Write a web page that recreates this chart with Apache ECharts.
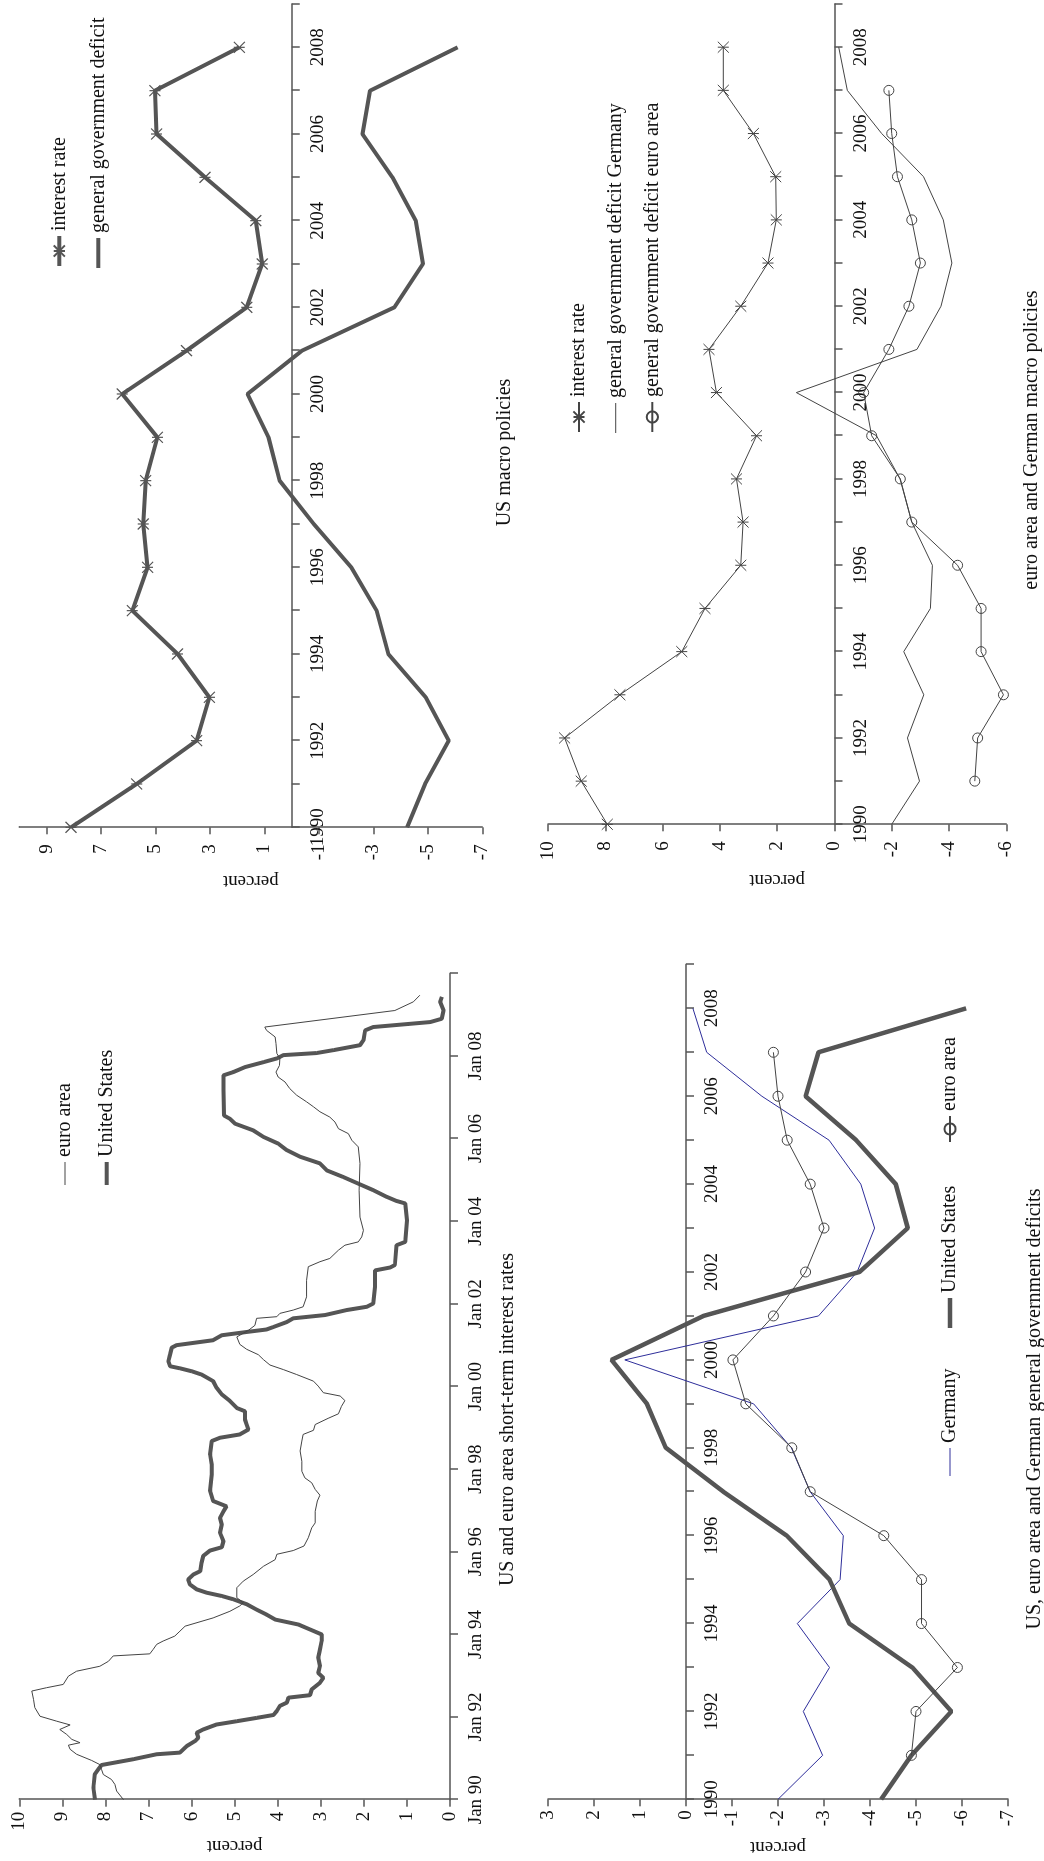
<!DOCTYPE html>
<html><head><meta charset="utf-8">
<script src="https://cdn.jsdelivr.net/npm/echarts@6/dist/echarts.min.js"></script>
<style>
html,body{margin:0;padding:0;background:#fff;width:1044px;height:1861px;overflow:hidden;}
#chart{position:absolute;left:0;top:0;width:1861px;height:1044px;transform-origin:0 0;transform:translate(0,1861px) rotate(-90deg);background:#fff;}
</style></head><body><div id="chart"></div>
<script>
// ---------- DATA ----------
const years = [1990,1991,1992,1993,1994,1995,1996,1997,1998,1999,2000,2001,2002,2003,2004,2005,2006,2007,2008];
const usInterestRate = [8.10,5.69,3.49,3.02,4.19,5.85,5.29,5.45,5.36,4.93,6.22,3.86,1.65,1.08,1.32,3.18,4.96,5.02,1.92];
const usDeficit = [-4.24,-4.90,-5.77,-4.92,-3.55,-3.12,-2.19,-0.81,0.44,0.85,1.62,-0.38,-3.77,-4.82,-4.56,-3.70,-2.60,-2.88,-6.09];
const euroInterestRate = [7.93,8.84,9.42,7.49,5.33,4.52,3.27,3.19,3.42,2.72,4.12,4.38,3.27,2.32,2.03,2.05,2.83,3.88,3.88];
const germanyDeficit = [-2.00,-2.97,-2.55,-3.12,-2.42,-3.35,-3.42,-2.70,-2.29,-1.47,1.33,-2.88,-3.72,-4.10,-3.80,-3.11,-1.65,-0.45,-0.15];
const euroDeficit = [null,-4.90,-5.00,-5.90,-5.12,-5.12,-4.30,-2.70,-2.30,-1.30,-1.02,-1.90,-2.60,-3.00,-2.70,-2.20,-2.00,-1.90,null];

// short-term interest rates (time in decimal years)
const usRateTime = [1990.00,1990.29,1990.61,1990.73,1990.84,1990.98,1991.10,1991.14,1991.30,1991.42,1991.50,1991.62,1991.70,1991.82,1991.90,1991.98,1992.05,1992.15,1992.27,1992.35,1992.47,1992.53,1992.67,1992.83,1992.95,1993.07,1993.23,1993.44,1993.64,1993.84,1994.00,1994.12,1994.24,1994.36,1994.48,1994.60,1994.73,1994.85,1994.93,1995.01,1995.09,1995.21,1995.33,1995.45,1995.53,1995.73,1995.90,1996.03,1996.11,1996.26,1996.46,1996.66,1996.82,1996.98,1997.10,1997.23,1997.47,1997.87,1998.11,1998.35,1998.68,1998.76,1998.84,1998.96,1999.08,1999.20,1999.40,1999.48,1999.65,1999.81,1999.97,2000.13,2000.29,2000.37,2000.44,2000.49,2000.61,2000.77,2000.94,2001.00,2001.12,2001.24,2001.32,2001.38,2001.44,2001.56,2001.65,2001.73,2001.85,2001.93,2002.01,2002.41,2002.81,2002.88,2002.94,2003.42,2003.50,2004.02,2004.43,2004.49,2004.59,2004.75,2004.91,2005.07,2005.23,2005.40,2005.56,2005.72,2005.88,2006.04,2006.20,2006.36,2006.48,2006.56,2007.17,2007.53,2007.61,2007.73,2007.85,2007.94,2008.02,2008.07,2008.14,2008.26,2008.38,2008.62,2008.70,2008.82,2008.90,2009.10,2009.31,2009.43];
const usShortRate = [8.24,8.28,8.25,8.17,8.09,7.35,6.81,6.27,6.11,5.92,5.84,5.88,5.73,5.42,4.95,4.49,4.10,4.02,3.95,3.79,3.75,3.25,3.21,3.02,2.94,3.06,3.02,3.06,3.02,2.98,2.98,3.25,3.52,4.06,4.26,4.49,4.72,5.03,5.30,5.65,5.88,6.04,6.08,5.96,5.80,5.77,5.73,5.57,5.30,5.26,5.34,5.30,5.34,5.26,5.19,5.50,5.57,5.53,5.53,5.57,5.53,5.34,4.88,4.68,4.72,4.76,4.76,4.95,5.11,5.30,5.42,5.50,5.77,6.00,6.27,6.50,6.54,6.50,6.46,6.35,5.50,5.30,4.72,4.26,4.10,3.79,3.64,2.90,2.40,1.93,1.78,1.74,1.74,1.39,1.28,1.24,1.04,1.00,1.04,1.24,1.47,1.78,2.13,2.48,2.86,3.02,3.48,3.79,3.99,4.33,4.57,4.99,5.11,5.25,5.26,5.26,5.03,4.76,4.33,4.02,3.87,3.10,2.71,2.09,2.01,1.97,1.78,0.46,0.19,0.15,0.23,0.19];
const euroRateTime = [1990.00,1990.21,1990.37,1990.49,1990.61,1990.73,1990.85,1990.95,1991.10,1991.22,1991.32,1991.38,1991.46,1991.58,1991.70,1991.81,1991.90,1992.02,1992.23,1992.43,1992.63,1992.71,1992.79,1992.99,1993.11,1993.23,1993.35,1993.48,1993.53,1993.64,1993.76,1993.84,1993.96,1994.08,1994.20,1994.40,1994.56,1994.69,1994.77,1994.89,1995.13,1995.29,1995.45,1995.65,1995.81,1995.94,1996.03,1996.14,1996.34,1996.58,1996.70,1996.98,1997.23,1997.37,1997.51,1997.67,1997.79,1997.95,1998.19,1998.44,1998.68,1998.84,1998.94,1999.08,1999.23,1999.34,1999.52,1999.66,1999.77,1999.85,2000.01,2000.13,2000.29,2000.41,2000.52,2000.65,2000.77,2000.90,2001.02,2001.20,2001.36,2001.48,2001.65,2001.69,2001.77,2001.85,2001.93,2002.17,2002.57,2002.90,2003.02,2003.10,2003.30,2003.42,2003.50,2003.62,2003.78,2004.10,2004.75,2005.40,2005.80,2005.96,2006.12,2006.24,2006.40,2006.52,2006.65,2006.77,2006.89,2007.05,2007.21,2007.37,2007.49,2007.61,2007.77,2007.94,2008.06,2008.30,2008.46,2008.62,2008.70,2009.10,2009.31,2009.47];
const euroShortRate = [7.58,7.74,7.78,7.86,8.05,8.09,8.13,8.32,8.67,8.82,8.86,8.59,8.78,8.90,9.06,8.82,9.13,9.52,9.64,9.67,9.71,9.37,8.98,8.86,8.67,8.13,7.93,7.82,6.97,6.89,6.81,6.66,6.39,6.27,6.15,5.50,5.11,4.88,4.80,4.95,4.95,4.80,4.57,4.33,4.06,4.02,3.64,3.39,3.29,3.21,3.13,3.13,3.08,3.02,3.13,3.21,3.37,3.44,3.44,3.48,3.44,3.41,3.17,3.13,2.83,2.59,2.52,2.44,2.55,2.94,3.06,3.17,3.56,3.87,4.18,4.33,4.45,4.72,4.88,4.95,4.68,4.53,4.49,4.02,3.95,3.64,3.41,3.33,3.33,3.29,3.02,2.79,2.59,2.44,2.13,2.05,2.01,2.09,2.11,2.09,2.13,2.28,2.36,2.59,2.67,2.79,3.02,3.17,3.33,3.56,3.72,3.83,3.99,4.04,3.96,3.95,4.02,4.04,4.06,4.26,4.30,1.28,0.85,0.70];

// tick labels
const usMacroTicks = [-7,-5,-3,-1,1,3,5,7,9];
const titles = ['US and euro area short-term interest rates','US macro policies','US, euro area and German general government deficits','euro area and German macro policies'];

// ---------- STYLE / LAYOUT ----------
const FONT = 'Liberation Serif, Times New Roman, serif';
const TXT = '#111';
const GRAY = '#555';
const THIN = '#444';
const BLUE = '#2e2e9a';
const STAR = 'path://M0,0L10,10M10,0L0,10M5,0L5,10';

const grids = [
  {left:61.3, top:19.3, width:826.4, height:430.7},
  {left:1033.7, top:19.3, width:823.3, height:463},
  {left:61.7, top:548, width:834.9, height:460},
  {left:1036.7, top:548, width:820.3, height:458.3}
];
const vRanges = [[0,10,1],[-7,10,2],[-7,3,1],[-6,10,2]];

function pairs(xs, ys){ const out=[]; for(let i=0;i<xs.length;i++){ if(ys[i]!==null && ys[i]!==undefined) out.push([xs[i], ys[i]]);} return out; }

// offset that places the time axis on the value-zero line of its grid
function zeroOffset(g){ const r=vRanges[g]; const gr=grids[g]; return -gr.height*(0-r[0])/(r[1]-r[0]); }

function timeAxis(grid, min, max, interval, fmt){
  return {type:'value', gridIndex:grid, min:min, max:max, interval:interval, position:'bottom', offset:zeroOffset(grid),
    axisLine:{show:true,onZero:false,lineStyle:{color:GRAY,width:1.5}},
    axisTick:{show:true,length:8,inside:false,lineStyle:{color:GRAY,width:1.5}},
    axisLabel:{show:true,formatter:fmt,color:TXT,fontFamily:FONT,fontSize:19,margin:17},
    splitLine:{show:false}};
}
function valAxis(grid, gap, margin, custom){
  const r=vRanges[grid];
  const a = {type:'value', gridIndex:grid, min:r[0], max:r[1], interval:r[2], position:'left',
    name:'percent', nameLocation:'middle', nameRotate:90, nameGap:gap,
    nameTextStyle:{color:TXT,fontFamily:FONT,fontSize:19},
    axisLine:{show:true,onZero:false,lineStyle:{color:GRAY,width:1.5}},
    axisTick:{show:true,length:7,inside:false,lineStyle:{color:GRAY,width:1.5}},
    axisLabel:{show:true,color:TXT,fontFamily:FONT,fontSize:19,margin:margin},
    splitLine:{show:false}};
  if(custom){ a.axisTick.customValues = custom; a.axisLabel.customValues = custom; }
  return a;
}
const yearFmt = v => (v % 2 === 0 && v <= 2008) ? String(v) : '';
const janFmt = v => (v < 2010) ? ('Jan ' + String(v).slice(2)) : '';

// legend: plain line series get a rectangle icon whose height = line width
function leg(name, left, cy, w, plainWidth, lineW){
  const item = plainWidth ? {name:name, icon:'rect'} : {name:name};
  const l = {data:[item], left:left, top:cy-10, padding:0, itemWidth:w, itemHeight: plainWidth ? plainWidth : 14,
    symbolKeepAspect:false, selectedMode:false,
    formatter: n => n.split('|')[0], textStyle:{color:TXT,fontFamily:FONT,fontSize:20}};
  if(lineW) l.lineStyle = {width:lineW};
  return l;
}
function ttl(text, cx, cy){
  return {text:text, left:cx-5, top:cy-5, textAlign:'center', textVerticalAlign:'middle',
    textStyle:{color:TXT,fontFamily:FONT,fontSize:20,fontWeight:'normal'}};
}

const option = {
  backgroundColor:'#fff',
  animation:false,
  title:[ ttl(titles[0],441.5,508), ttl(titles[1],1408.5,505), ttl(titles[2],452,1035), ttl(titles[3],1421,1032) ],
  grid: grids.map(g => Object.assign({outerBoundsMode:'none', containLabel:false}, g)),
  xAxis:[
    timeAxis(0,1990,2010,2,janFmt),
    timeAxis(1,1990,2009,1,yearFmt),
    timeAxis(2,1990,2009,1,yearFmt),
    timeAxis(3,1990,2009,1,yearFmt)
  ],
  yAxis:[
    valAxis(0,37,12),
    valAxis(1,44,17,usMacroTicks),
    valAxis(2,38,11),
    valAxis(3,46,17)
  ],
  legend:[
    leg('euro area|C',676,65,23,1),
    leg('United States|C',676,106.7,23,4),
    leg('interest rate|A',1593,59.3,30,0,4),
    leg('general government deficit|A',1593,98.3,30,4),
    leg('Germany|D',385,950,28,1),
    leg('United States|D',533,950,30,4.5),
    leg('euro area|D',718,950,26),
    leg('interest rate|B',1428,579,30),
    leg('general government deficit Germany|B',1428,615.7,30,1),
    leg('general government deficit euro area|B',1428,652.3,30)
  ],
  series:[
    {name:'United States|C', type:'line', xAxisIndex:0, yAxisIndex:0, data:pairs(usRateTime,usShortRate), symbol:'none',
      color:GRAY, lineStyle:{color:GRAY,width:4}},
    {name:'euro area|C', type:'line', xAxisIndex:0, yAxisIndex:0, data:pairs(euroRateTime,euroShortRate), symbol:'none',
      color:THIN, lineStyle:{color:THIN,width:1}},

    {name:'interest rate|A', type:'line', xAxisIndex:1, yAxisIndex:1, data:pairs(years,usInterestRate), symbol:STAR, symbolSize:11,
      color:GRAY, lineStyle:{color:GRAY,width:4}, itemStyle:{color:GRAY,borderColor:GRAY,borderWidth:1.2}},
    {name:'general government deficit|A', type:'line', xAxisIndex:1, yAxisIndex:1, data:pairs(years,usDeficit), symbol:'none',
      color:GRAY, lineStyle:{color:GRAY,width:4}},

    {name:'Germany|D', type:'line', xAxisIndex:2, yAxisIndex:2, data:pairs(years,germanyDeficit), symbol:'none',
      color:BLUE, lineStyle:{color:BLUE,width:1}},
    {name:'United States|D', type:'line', xAxisIndex:2, yAxisIndex:2, data:pairs(years,usDeficit), symbol:'none',
      color:GRAY, lineStyle:{color:GRAY,width:4.5}},
    {name:'euro area|D', type:'line', xAxisIndex:2, yAxisIndex:2, data:pairs(years,euroDeficit), symbol:'circle', symbolSize:10,
      color:THIN, lineStyle:{color:THIN,width:1}, itemStyle:{color:'rgba(255,255,255,0)',borderColor:THIN,borderWidth:1}},

    {name:'interest rate|B', type:'line', xAxisIndex:3, yAxisIndex:3, data:pairs(years,euroInterestRate), symbol:STAR, symbolSize:11,
      color:THIN, lineStyle:{color:THIN,width:1}, itemStyle:{color:THIN,borderColor:THIN,borderWidth:1}},
    {name:'general government deficit Germany|B', type:'line', xAxisIndex:3, yAxisIndex:3, data:pairs(years,germanyDeficit), symbol:'none',
      color:THIN, lineStyle:{color:THIN,width:1}},
    {name:'general government deficit euro area|B', type:'line', xAxisIndex:3, yAxisIndex:3, data:pairs(years,euroDeficit), symbol:'circle', symbolSize:10,
      color:THIN, lineStyle:{color:THIN,width:1}, itemStyle:{color:'rgba(255,255,255,0)',borderColor:THIN,borderWidth:1}}
  ]
};
const chart = echarts.init(document.getElementById('chart'), null, {renderer:'canvas'});
chart.setOption(option);
</script></body></html>
